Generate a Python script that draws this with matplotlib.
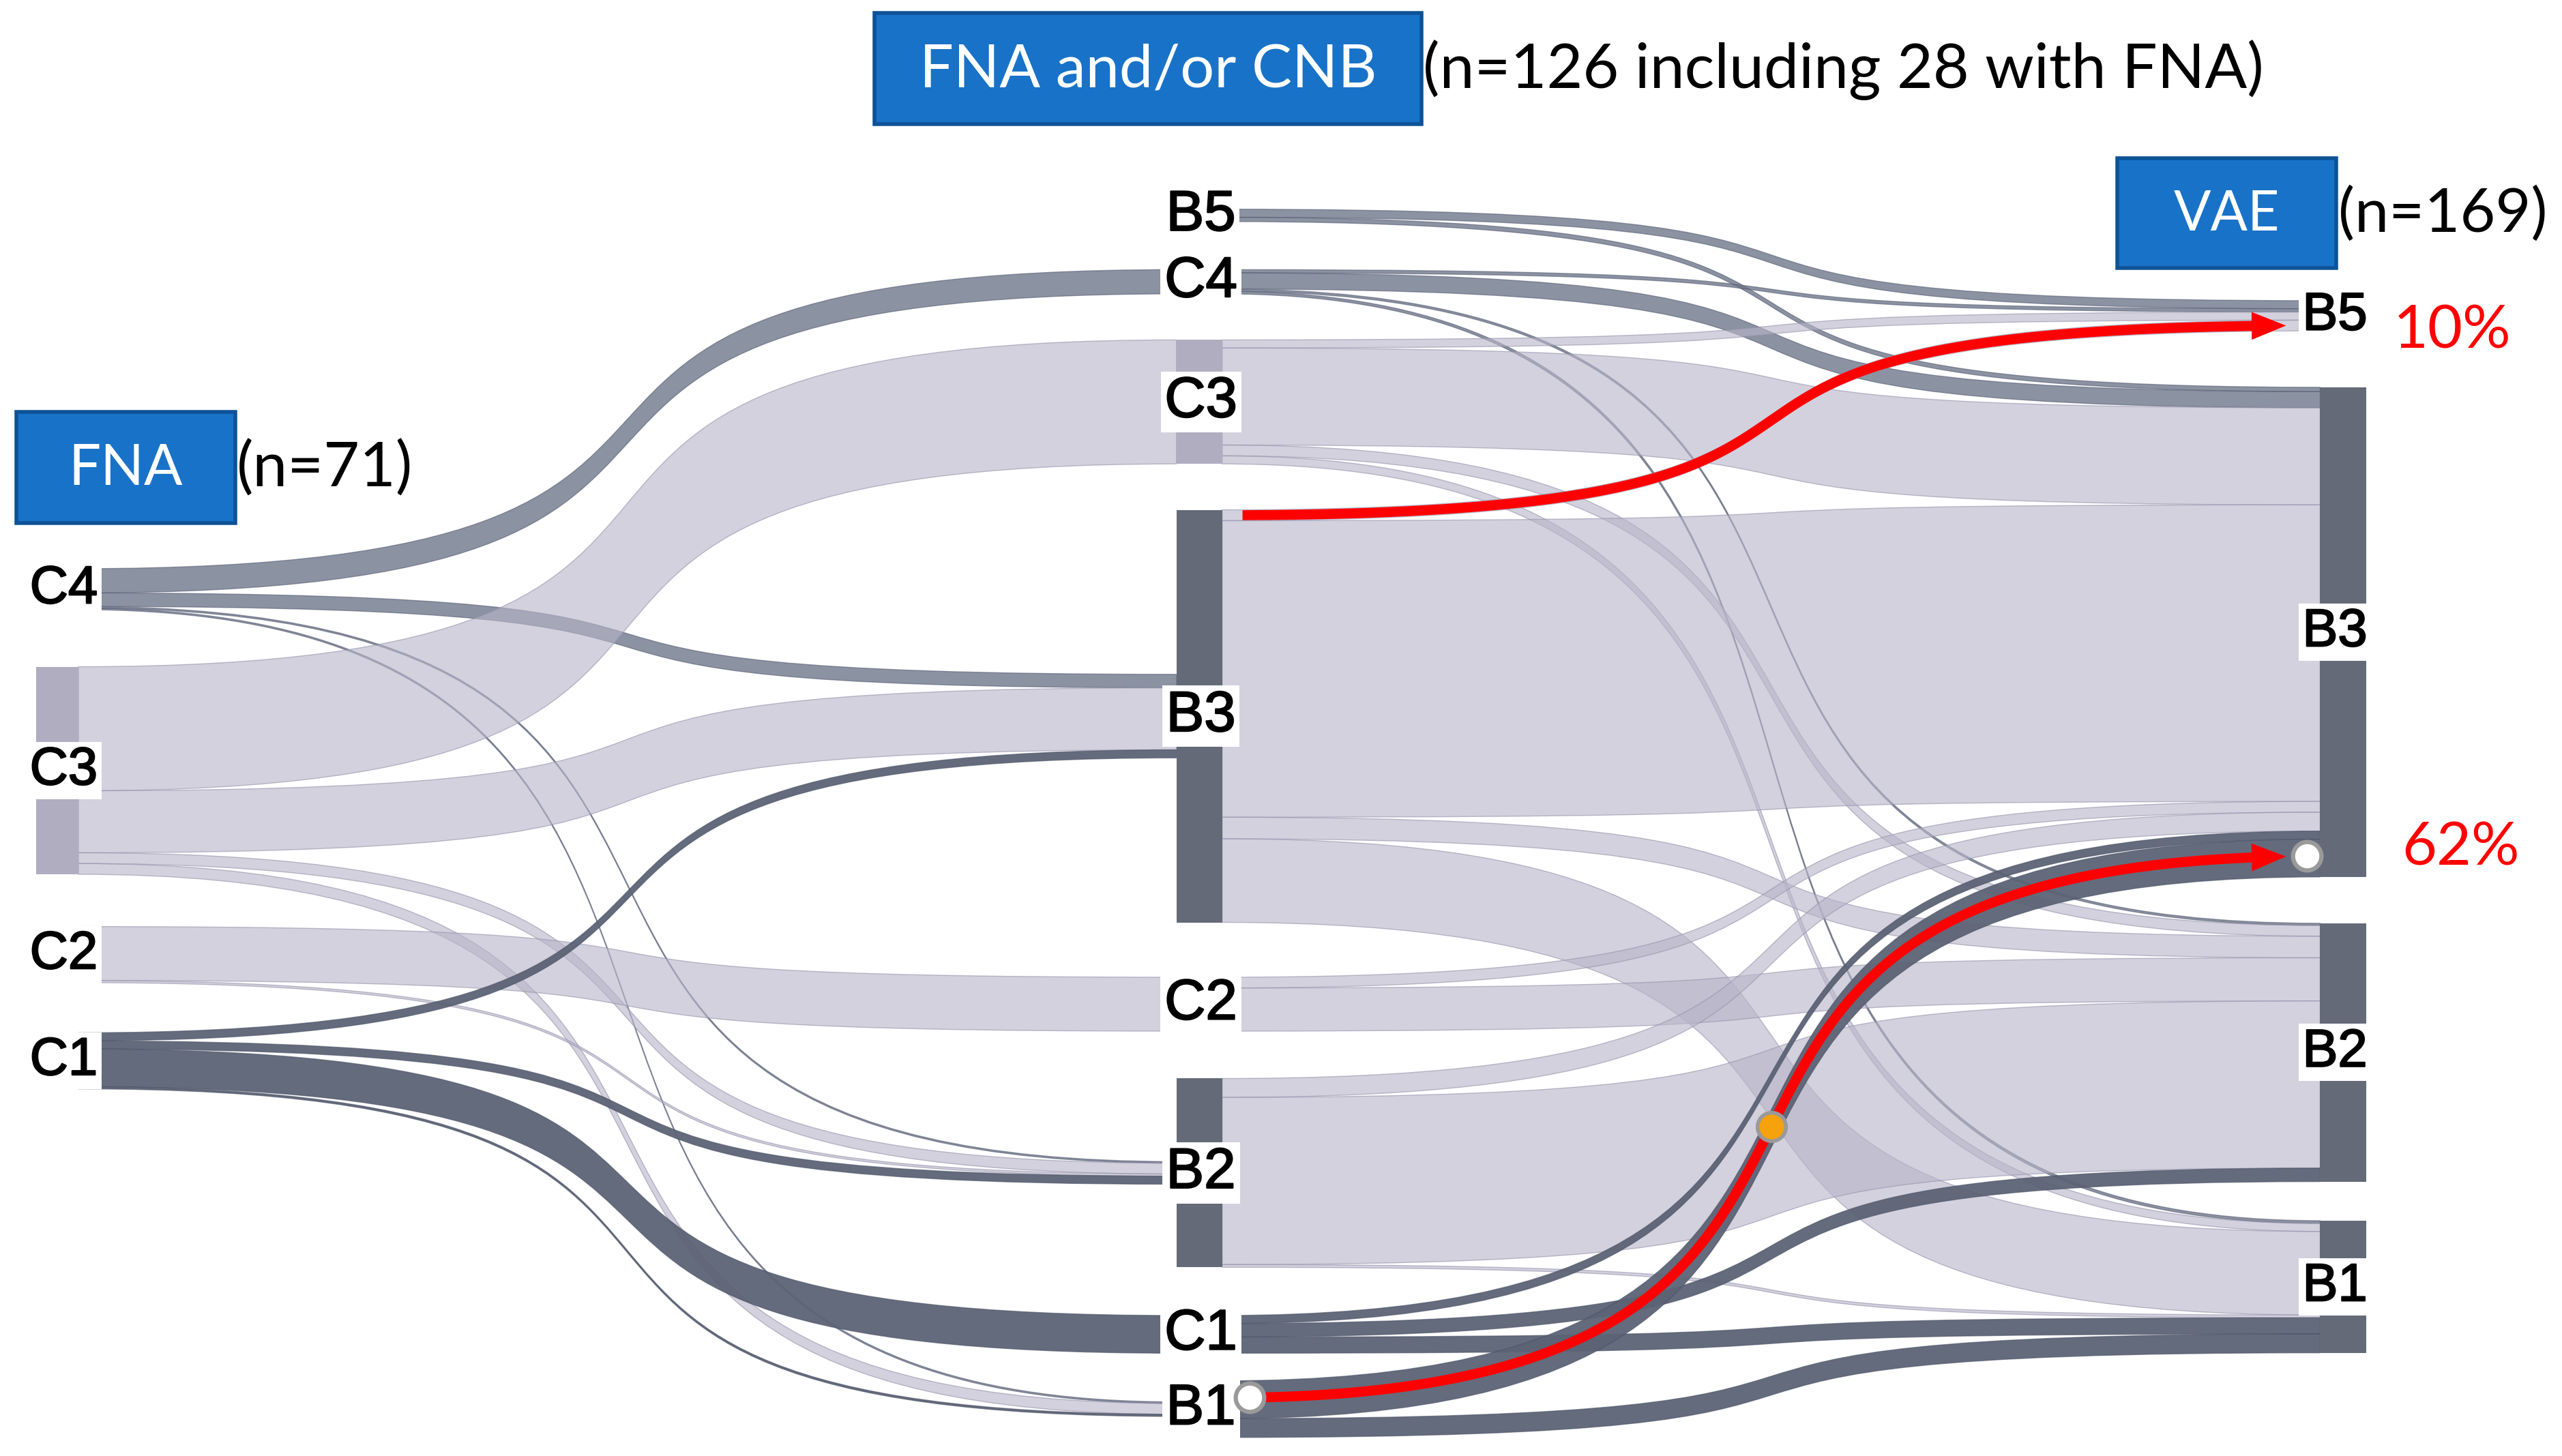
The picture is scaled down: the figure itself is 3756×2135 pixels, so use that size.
import numpy as np
import matplotlib
matplotlib.use("Agg")
import matplotlib.pyplot as plt
import matplotlib.patheffects as pe
from matplotlib.path import Path
from matplotlib.patches import PathPatch, Rectangle, Polygon

# ---------------- data ----------------
left_nodes = ["C4", "C3", "C2", "C1"]
mid_nodes = ["B5", "C4", "C3", "B3", "C2", "B2", "C1", "B1"]
right_nodes = ["B5", "B3", "B2", "B1"]

lm_source = ["C4", "C4", "C4", "C4", "C3", "C3", "C3", "C3", "C2", "C2", "C1", "C1", "C1", "C1"]
lm_target = ["C4", "B3", "B2", "B1", "C3", "B3", "B2", "B1", "C2", "B2", "B3", "B2", "C1", "B1"]
lm_value = [4.5, 2.5, 0.3, 0.3, 23, 11.5, 2, 2, 10, 0.4, 1.5, 1.5, 7, 0.4]

mr_source = ["B5", "B5", "C4", "C4", "C4", "C4", "C3", "C3", "C3", "C3", "B3", "B3", "B3", "B3",
             "C2", "C2", "B2", "B2", "B2", "C1", "C1", "C1", "B1", "B1"]
mr_target = ["B5", "B3", "B5", "B3", "B2", "B1", "B5", "B3", "B2", "B1", "B5", "B3", "B2", "B1",
             "B3", "B2", "B3", "B2", "B1", "B3", "B2", "B1", "B3", "B1"]
mr_value = [1.5, 0.8, 0.6, 3, 0.4, 0.5, 1.5, 18, 2, 1.5, 2, 55, 4, 15.5,
            2, 8, 3.5, 31, 0.5, 1.5, 2.5, 3, 7, 3.5]

stage_titles = ["FNA", "FNA and/or CNB", "VAE"]
stage_counts = ["(n=71)", "(n=126 including 28 with FNA)", "(n=169)"]
highlights = [("B3", "B5", "10%"), ("B1", "B3", "62%")]

# ---------------- layout / style ----------------
W, H = 1568, 891
PX = 3756 / W
SCALE = 3.3
CURV = 0.75
left_top = {"C4": 348, "C3": 408, "C2": 567, "C1": 632}
mid_top = {"B5": 128, "C4": 165, "C3": 208, "B3": 312, "C2": 598, "B2": 660, "C1": 805, "B1": 845}
right_top = {"B5": 184, "B3": 237, "B2": 565, "B1": 747}
XL = (22, 48)
XM = (720, 748)
XR = (1420, 1448)

DARK = "#646a78"
MED = (0.42, 0.45, 0.53, 0.78)
LIGHT = (0.72, 0.71, 0.79, 0.62)
DARKF = (0.36, 0.39, 0.46, 0.95)
flow_color = {"B5": MED, "C4": MED, "C3": LIGHT, "B3": LIGHT, "C2": LIGHT, "B2": LIGHT,
              "C1": DARKF, "B1": DARKF}
node_color = {"B5": "#7c8192", "C4": "#7c8192", "C3": "#b0adc0", "C2": "#c9c7d5",
              "C1": DARK, "B3": DARK, "B2": DARK, "B1": DARK}

fig = plt.figure(figsize=(37.56, 21.35), dpi=100)
ax = fig.add_axes([0, 0, 1, 1])
ax.set_xlim(0, W)
ax.set_ylim(H, 0)
ax.axis("off")


def sums(src, tgt, val):
    o, i = {}, {}
    for s, t, v in zip(src, tgt, val):
        o[s] = o.get(s, 0) + v
        i[t] = i.get(t, 0) + v
    return o, i


out_lm, in_lm = sums(lm_source, lm_target, lm_value)
out_mr, in_mr = sums(mr_source, mr_target, mr_value)
val_L = {n: out_lm.get(n, 0) for n in left_nodes}
val_M = {n: max(in_lm.get(n, 0), out_mr.get(n, 0)) for n in mid_nodes}
val_R = {n: in_mr.get(n, 0) for n in right_nodes}


def layout(src, tgt, val, snodes, tnodes, stop, ttop, sval, tval):
    oy, iy = {}, {}
    for n in snodes:
        idx = sorted([k for k, s in enumerate(src) if s == n], key=lambda k: tnodes.index(tgt[k]))
        tot = sum(val[k] for k in idx) * SCALE
        y = stop[n] + (sval[n] * SCALE - tot) / 2
        for k in idx:
            oy[k] = (y, y + val[k] * SCALE)
            y += val[k] * SCALE
    for n in tnodes:
        idx = sorted([k for k, t in enumerate(tgt) if t == n], key=lambda k: snodes.index(src[k]))
        tot = sum(val[k] for k in idx) * SCALE
        y = ttop[n] + (tval[n] * SCALE - tot) / 2
        for k in idx:
            iy[k] = (y, y + val[k] * SCALE)
            y += val[k] * SCALE
    return oy, iy


def draw_links(src, tgt, val, oy, iy, xa, xb):
    ca = xa + CURV * (xb - xa)
    cb = xb - CURV * (xb - xa)
    for k in range(len(src)):
        (a0, b0), (a1, b1) = oy[k], iy[k]
        verts = [(xa, a0), (ca, a0), (cb, a1), (xb, a1), (xb, b1), (cb, b1), (ca, b0), (xa, b0), (xa, a0)]
        codes = [Path.MOVETO, Path.CURVE4, Path.CURVE4, Path.CURVE4, Path.LINETO,
                 Path.CURVE4, Path.CURVE4, Path.CURVE4, Path.CLOSEPOLY]
        c = flow_color[src[k]]
        ec = (c[0] * 0.8, c[1] * 0.8, c[2] * 0.85, 0.6)
        ax.add_patch(PathPatch(Path(verts, codes), facecolor=c, edgecolor=ec, lw=1.0, zorder=2))


oy1, iy1 = layout(lm_source, lm_target, lm_value, left_nodes, mid_nodes, left_top, mid_top, val_L, val_M)
oy2, iy2 = layout(mr_source, mr_target, mr_value, mid_nodes, right_nodes, mid_top, right_top, val_M, val_R)
draw_links(lm_source, lm_target, lm_value, oy1, iy1, XL[1], XM[0])
draw_links(mr_source, mr_target, mr_value, oy2, iy2, XM[1], XR[0])

# node bars and labels
lab_font = ["Liberation Sans", "DejaVu Sans"]
thick = [pe.withStroke(linewidth=1.6, foreground="black")]
for nodes, top, vals, xr, lx, fs in [(left_nodes, left_top, val_L, XL, 39, 56),
                                     (mid_nodes, mid_top, val_M, XM, 735, 60),
                                     (right_nodes, right_top, val_R, XR, 1429, 56)]:
    for n in nodes:
        h = vals[n] * SCALE
        ax.add_patch(Rectangle((xr[0], top[n]), xr[1] - xr[0], h, facecolor=node_color[n],
                               edgecolor="none", zorder=3))
        ax.text(lx, top[n] + h / 2, n, ha="center", va="center", fontsize=fs, family=lab_font,
                color="black", zorder=5, path_effects=thick,
                bbox=dict(boxstyle="square,pad=0.07", facecolor="white", edgecolor="none"))


# highlighted red paths following the links
def link_curve(s, t, frac):
    k = [i for i in range(len(mr_source)) if mr_source[i] == s and mr_target[i] == t][0]
    y0 = oy2[k][0] + frac * (oy2[k][1] - oy2[k][0])
    y1 = iy2[k][0] + frac * (iy2[k][1] - iy2[k][0])
    xa, xb = XM[1], XR[0]
    ca = xa + CURV * (xb - xa)
    cb = xb - CURV * (xb - xa)
    tt = np.linspace(0, 1, 1200)
    bx = (1 - tt) ** 3 * xa + 3 * (1 - tt) ** 2 * tt * ca + 3 * (1 - tt) * tt ** 2 * cb + tt ** 3 * xb
    by = (1 - tt) ** 3 * y0 + 3 * (1 - tt) ** 2 * tt * y0 + 3 * (1 - tt) * tt ** 2 * y1 + tt ** 3 * y1
    return bx, by


def red_arrow(bx, by, xs, xe, L=21, hw=8.5):
    m = (bx >= xs) & (bx <= xe)
    px, py = bx[m], by[m]
    tip = np.array([px[-1], py[-1]])
    d = tip - np.array([px[-8], py[-8]])
    d /= np.hypot(*d)
    nrm = np.array([-d[1], d[0]])
    base = tip - L * d
    keep = (px - base[0]) * d[0] + (py - base[1]) * d[1] <= 2
    ax.plot(px[keep], py[keep], color="#ff0000", lw=10.5, solid_capstyle="butt", zorder=7)
    ax.add_patch(Polygon([tip, base + hw * nrm, base - hw * nrm], closed=True, facecolor="#ff0000",
                         edgecolor="none", zorder=7))


pct_pos = {"10%": (1501, 203), "62%": (1506, 519)}
fits = []
for s, t, lab in highlights:
    if lab == "10%":
        bx, by = link_curve(s, t, 0.5)
        red_arrow(bx, by, 760, 1400)
    else:
        bx, by = link_curve(s, t, 0.45)
        red_arrow(bx, by, 765, 1400)
        ax.plot([765], [np.interp(765, bx, by)], "o", ms=30, mfc="white", mec="#9a9a9a",
                mew=4.5, zorder=8)
        ax.plot([1412], [by[-1]], "o", ms=30, mfc="white", mec="#9a9a9a", mew=4.5, zorder=8)
        mid = len(bx) // 2
        ax.plot([bx[mid]], [by[mid]], "o", ms=30, mfc="#f5a20c", mec="#9a9a9a", mew=4, zorder=8)
    tx = ax.text(*pct_pos[lab], lab, ha="center", va="center", color="#ff0000", fontsize=60,
                 family=["Lato", "DejaVu Sans"], zorder=9)
    fits.append((tx, 72))

# stage headers
hdr_font = ["Lato", "DejaVu Sans"]
boxes = [(10, 252, 134, 68), (535, 8, 335, 68), (1296, 97, 134, 67)]
title_w = [70, 280, 65]
count_w = [108, 515, 128]
for (bx0, by0, bw, bh), title, cnt, tw, cw in zip(boxes, stage_titles, stage_counts, title_w, count_w):
    ax.add_patch(Rectangle((bx0, by0), bw, bh, facecolor="#1872c8", edgecolor="#0d5296",
                           lw=4, zorder=10))
    t1 = ax.text(bx0 + bw / 2, by0 + bh / 2 + 1, title, ha="center", va="center", color="white",
                 fontsize=60, family=hdr_font, zorder=11)
    t2 = ax.text(bx0 + bw + 1, by0 + bh / 2 + 1, cnt, ha="left", va="center", color="black",
                 fontsize=60, family=hdr_font, zorder=11)
    fits.append((t1, tw))
    fits.append((t2, cw))

fig.canvas.draw()
r = fig.canvas.get_renderer()
for txt, target in fits:
    bb = txt.get_window_extent(r)
    txt.set_fontsize(txt.get_fontsize() * target * PX / bb.width)

fig.savefig("out.png", dpi=100, facecolor="white")
